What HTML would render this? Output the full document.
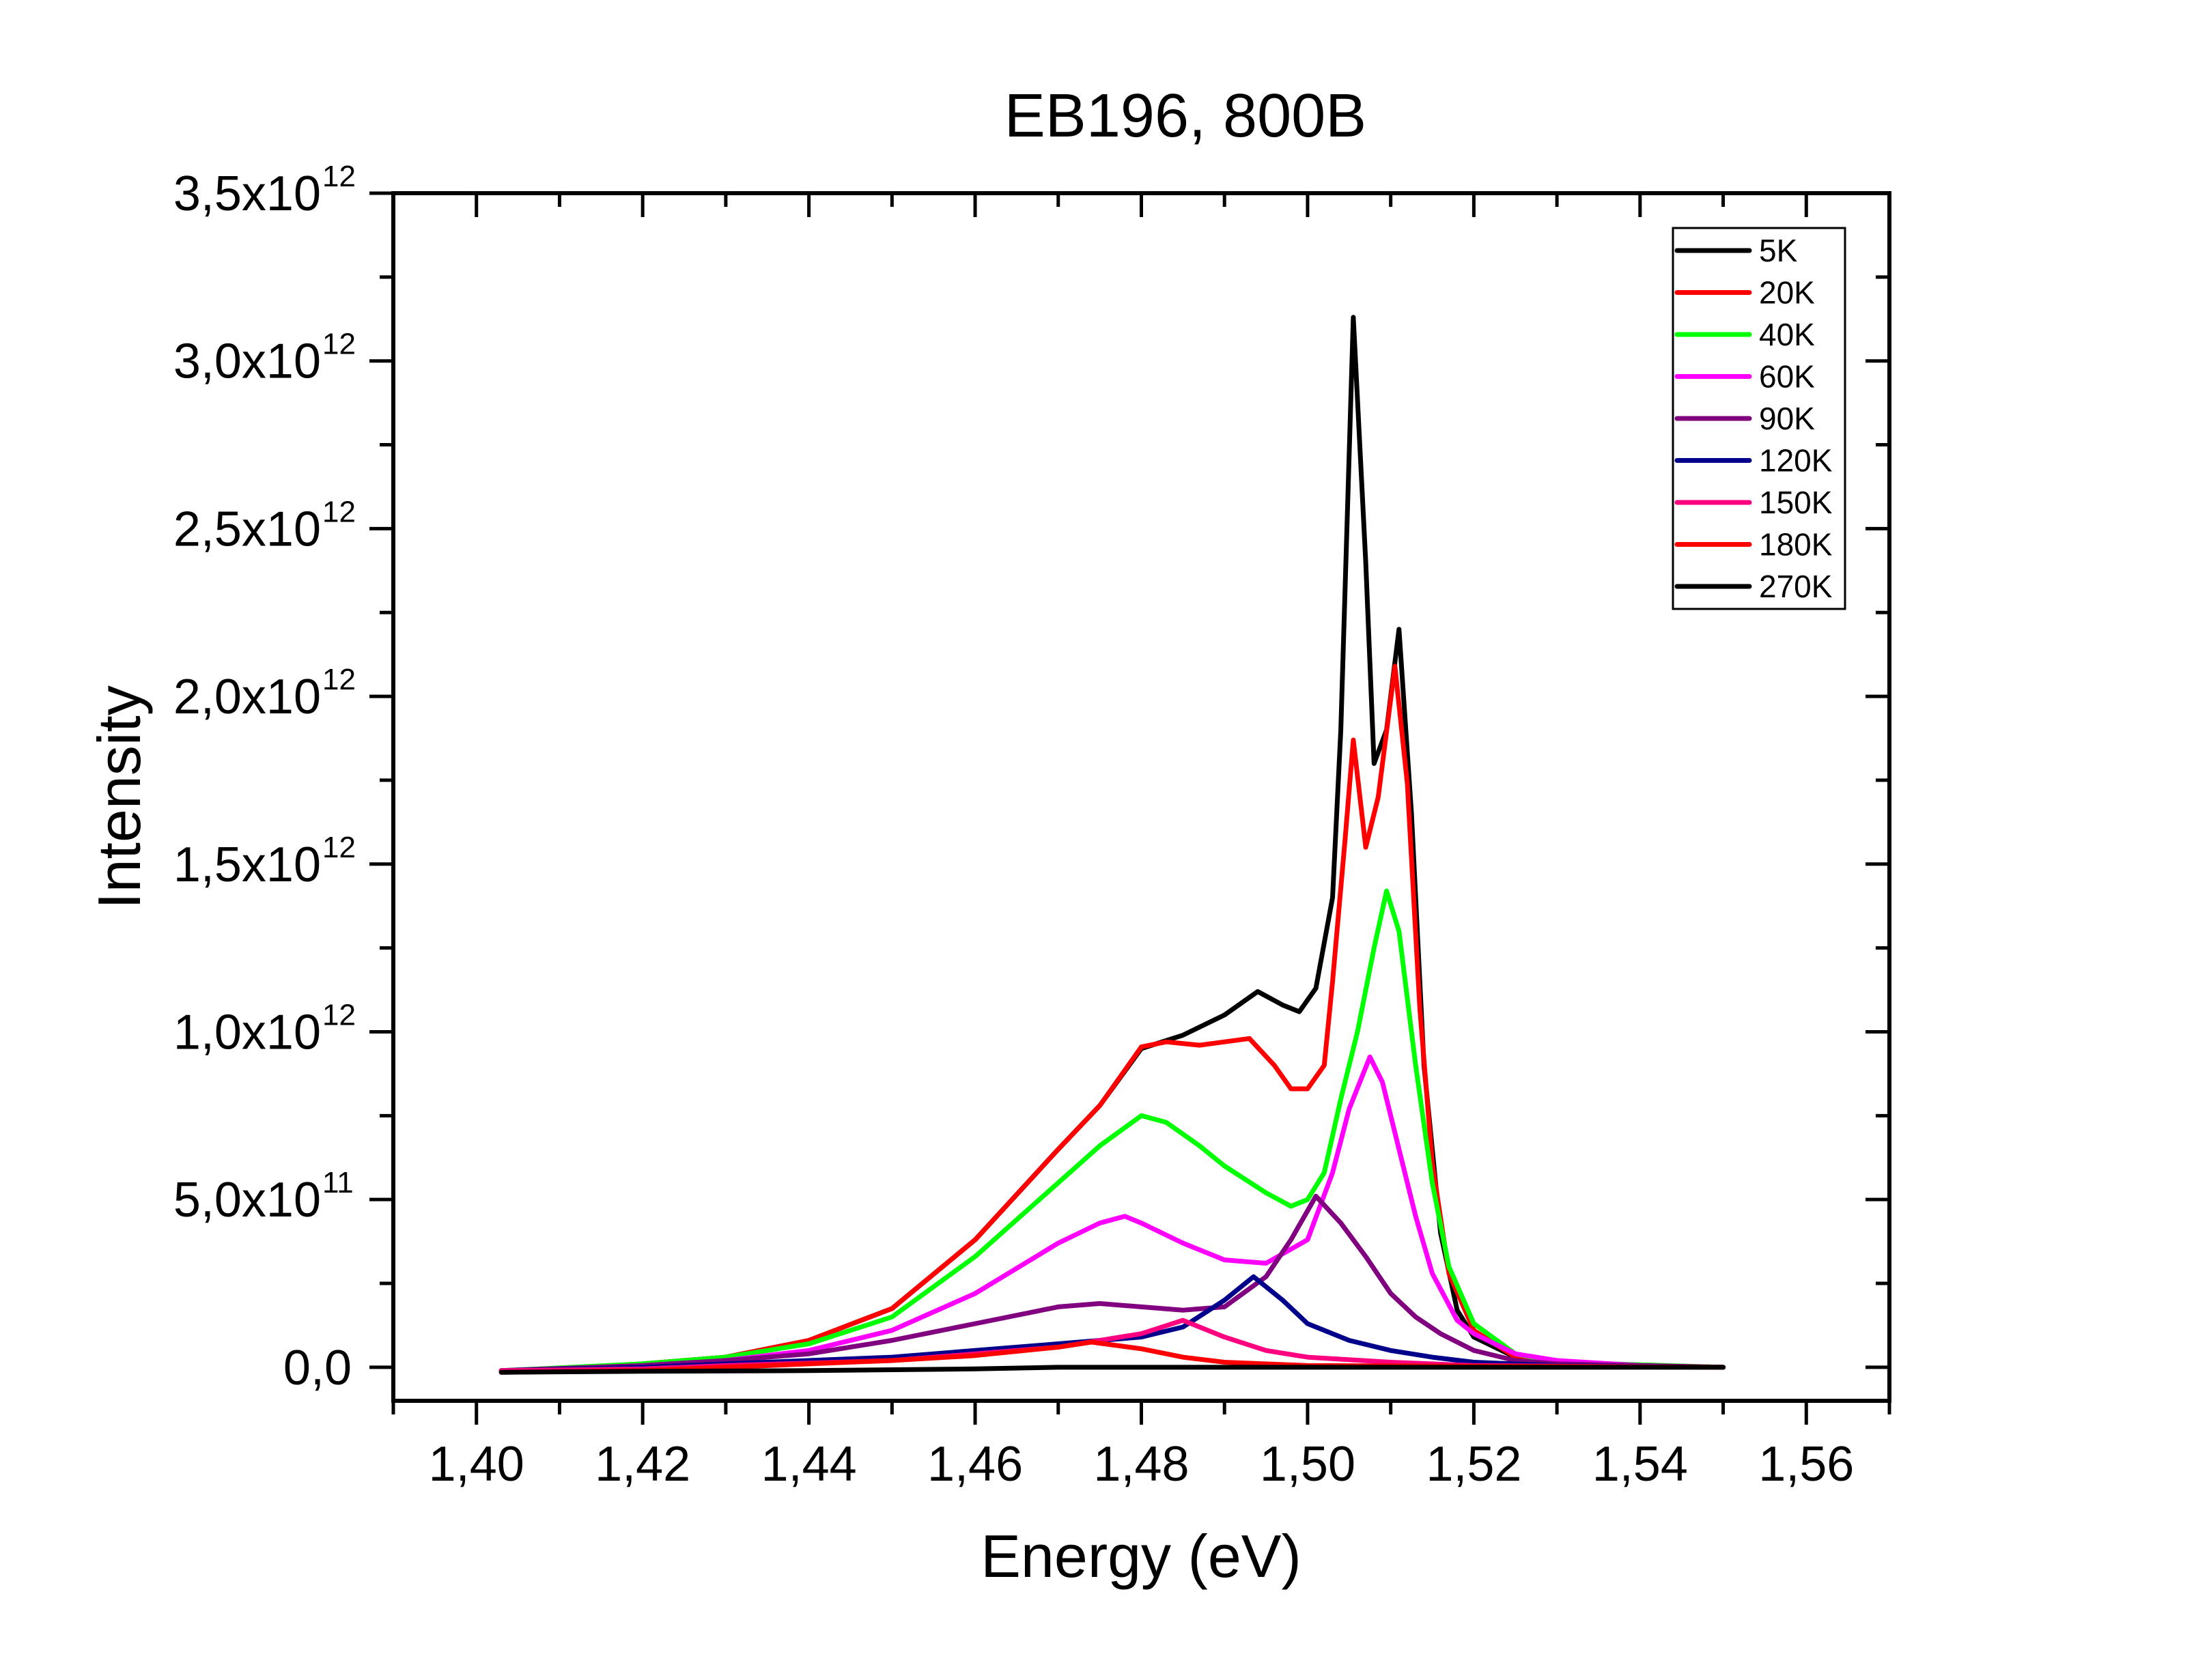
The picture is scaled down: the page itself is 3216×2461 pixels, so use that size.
<!DOCTYPE html>
<html><head><meta charset="utf-8"><style>
html,body{margin:0;padding:0;background:#fff}
svg{display:block;font-family:"Liberation Sans",Arial,sans-serif}
</style></head><body>
<svg id="chart" width="3216" height="2461" viewBox="0 0 3216 2461" xmlns="http://www.w3.org/2000/svg">
<rect x="0" y="0" width="3216" height="2461" fill="#fff"/>
<text x="1736" y="200" font-size="90" text-anchor="middle">EB196, 800B</text>
<g id="series"></g>
<g id="axes"></g>
<text x="1671" y="2310" font-size="88" text-anchor="middle">Energy (eV)</text>
<text transform="translate(205,1168) rotate(-90)" font-size="88" text-anchor="middle">Intensity</text>
<g id="legend"></g>
</svg>
<script>
const seriesNames = ["5K","20K","40K","60K","90K","120K","150K","180K","270K"];
const seriesColors = ["#000000","#ff0000","#00ff00","#ff00ff","#800080","#00008b","#ff0080","#ff0000","#000000"];
const xTicks = [1.40,1.42,1.44,1.46,1.48,1.50,1.52,1.54,1.56];
const xTickLabels = ["1,40","1,42","1,44","1,46","1,48","1,50","1,52","1,54","1,56"];
const yTicks = [0,0.5,1.0,1.5,2.0,2.5,3.0,3.5];
const yTickMain = ["0,0","5,0x10","1,0x10","1,5x10","2,0x10","2,5x10","3,0x10","3,5x10"];
const yTickExp = ["","11","12","12","12","12","12","12"];
// values in units of 1e12
const s5K = [[1.403,-0.01],[1.41,-0.005],[1.42,0.01],[1.43,0.03],[1.44,0.08],[1.45,0.175],[1.46,0.38],[1.47,0.65],[1.475,0.78],[1.48,0.95],[1.485,0.99],[1.49,1.05],[1.494,1.12],[1.497,1.08],[1.499,1.06],[1.501,1.13],[1.503,1.4],[1.504,1.9],[1.5055,3.13],[1.507,2.4],[1.508,1.8],[1.5095,1.9],[1.511,2.2],[1.5125,1.65],[1.514,0.9],[1.516,0.4],[1.518,0.17],[1.52,0.09],[1.525,0.03],[1.53,0.01],[1.55,0]];
const s20K = [[1.403,-0.01],[1.41,-0.005],[1.42,0.01],[1.43,0.03],[1.44,0.08],[1.45,0.175],[1.46,0.38],[1.47,0.65],[1.475,0.78],[1.48,0.955],[1.483,0.97],[1.487,0.96],[1.49,0.97],[1.493,0.98],[1.496,0.9],[1.498,0.83],[1.5,0.83],[1.502,0.9],[1.503,1.15],[1.5045,1.57],[1.5055,1.87],[1.507,1.55],[1.5085,1.7],[1.5105,2.09],[1.512,1.74],[1.5135,1.07],[1.515,0.61],[1.517,0.28],[1.52,0.11],[1.525,0.03],[1.53,0.01],[1.55,0]];
const s40K = [[1.403,-0.01],[1.42,0.01],[1.43,0.03],[1.44,0.07],[1.45,0.15],[1.46,0.33],[1.47,0.55],[1.475,0.66],[1.48,0.75],[1.483,0.73],[1.487,0.66],[1.49,0.6],[1.495,0.52],[1.498,0.48],[1.5,0.5],[1.502,0.58],[1.504,0.8],[1.506,1.0],[1.508,1.25],[1.5095,1.42],[1.511,1.3],[1.513,0.9],[1.515,0.55],[1.517,0.3],[1.52,0.13],[1.525,0.04],[1.53,0.015],[1.55,0]];
const s60K = [[1.403,-0.01],[1.42,0.005],[1.43,0.02],[1.44,0.05],[1.45,0.11],[1.46,0.22],[1.47,0.37],[1.475,0.43],[1.478,0.45],[1.48,0.43],[1.485,0.37],[1.49,0.32],[1.495,0.31],[1.5,0.38],[1.503,0.58],[1.505,0.77],[1.5075,0.925],[1.509,0.85],[1.511,0.65],[1.513,0.45],[1.515,0.28],[1.518,0.14],[1.52,0.1],[1.525,0.04],[1.53,0.02],[1.54,0.005],[1.55,0]];
const s90K = [[1.403,-0.01],[1.42,0.005],[1.43,0.02],[1.44,0.04],[1.45,0.08],[1.46,0.13],[1.47,0.18],[1.475,0.19],[1.48,0.18],[1.485,0.17],[1.49,0.18],[1.495,0.27],[1.498,0.38],[1.501,0.51],[1.504,0.43],[1.507,0.33],[1.51,0.22],[1.513,0.15],[1.516,0.1],[1.52,0.05],[1.525,0.02],[1.53,0.01],[1.55,0]];
const s120K = [[1.403,-0.01],[1.42,0.0],[1.43,0.01],[1.45,0.03],[1.46,0.05],[1.47,0.07],[1.48,0.09],[1.485,0.12],[1.49,0.2],[1.4935,0.27],[1.497,0.2],[1.5,0.13],[1.505,0.08],[1.51,0.05],[1.515,0.03],[1.52,0.015],[1.53,0.005],[1.55,0]];
const s150K = [[1.403,-0.01],[1.42,-0.005],[1.43,0.005],[1.45,0.02],[1.46,0.04],[1.47,0.06],[1.48,0.1],[1.485,0.14],[1.49,0.09],[1.495,0.05],[1.5,0.03],[1.51,0.015],[1.52,0.005],[1.55,0]];
const s180K = [[1.403,-0.015],[1.42,-0.01],[1.43,0.0],[1.44,0.01],[1.45,0.02],[1.46,0.035],[1.47,0.06],[1.474,0.075],[1.48,0.055],[1.485,0.03],[1.49,0.015],[1.5,0.005],[1.55,0]];
const s270K = [[1.403,-0.015],[1.42,-0.012],[1.44,-0.01],[1.46,-0.005],[1.47,0.0],[1.5,0.0],[1.55,0]];
const allSeries = [s5K,s20K,s40K,s60K,s90K,s120K,s150K,s180K,s270K];

const X0=576,X1=2767,Y0=283,Y1=2052;
const xMin=1.39,xMax=1.57,yMin=-0.1,yMax=3.5;
function xs(v){return X0+(v-xMin)/(xMax-xMin)*(X1-X0);}
function ys(v){return Y1-(v-yMin)/(yMax-yMin)*(Y1-Y0);}
const NS="http://www.w3.org/2000/svg";
function mk(tag,attrs,parent){const e=document.createElementNS(NS,tag);for(const k in attrs)e.setAttribute(k,attrs[k]);parent.appendChild(e);return e;}

const sg=document.getElementById('series');
allSeries.forEach((s,i)=>{
  const p=mk('polyline',{points:s.map(d=>xs(d[0]).toFixed(1)+','+ys(d[1]).toFixed(1)).join(' '),fill:'none',stroke:seriesColors[i],'stroke-width':7,'stroke-linejoin':'round','stroke-linecap':'round'},sg);
  
  
});

const ag=document.getElementById('axes');
const frame=mk('rect',{x:X0,y:Y0,width:X1-X0,height:Y1-Y0,fill:'none',stroke:'#000','stroke-width':6},ag);


for(let k=0;k<=18;k++){
  const v=1.39+k*0.01; const x=xs(v); const major=(k%2===1);
  const L=major?35:20;
  const t=mk('line',{x1:x,y1:Y1,x2:x,y2:Y1+L,stroke:'#000','stroke-width':5},ag);
  
  
  const t2=mk('line',{x1:x,y1:Y0,x2:x,y2:Y0+L,stroke:'#000','stroke-width':5},ag);
  
  
}
xTicks.forEach((v,i)=>{
  const t=mk('text',{x:xs(v),y:2169,'font-size':72,'text-anchor':'middle'},ag);
  t.textContent=xTickLabels[i];
  
  
});
for(let k=0;k<=14;k++){
  const v=k*0.25; const y=ys(v); const major=(k%2===0);
  const L=major?35:20;
  const t=mk('line',{x1:X0-L,y1:y,x2:X0,y2:y,stroke:'#000','stroke-width':5},ag);
  
  
  const t2=mk('line',{x1:X1-L,y1:y,x2:X1,y2:y,stroke:'#000','stroke-width':5},ag);
  
  
}
yTicks.forEach((v,i)=>{
  const y=ys(v)+25;
  const t=mk('text',{x:i===0?515:470,y:y,'font-size':72,'text-anchor':'end'},ag);
  t.textContent=yTickMain[i];
  
  
  if(yTickExp[i]){
    const e=mk('text',{x:472,y:y-35,'font-size':44,'text-anchor':'start'},ag);
    e.textContent=yTickExp[i];
    
    
  }
});

const lg=document.getElementById('legend');
const box=mk('rect',{x:2450,y:334,width:252,height:558,fill:'#fff',stroke:'#000','stroke-width':3},lg);


seriesNames.forEach((n,i)=>{
  const y=367+61.5*i;
  const l=mk('line',{x1:2456,y1:y,x2:2562,y2:y,stroke:seriesColors[i],'stroke-width':7,'stroke-linecap':'round'},lg);
  
  
  const t=mk('text',{x:2576,y:y+16,'font-size':46},lg);
  t.textContent=n;
  
  
});
</script>
</body></html>
